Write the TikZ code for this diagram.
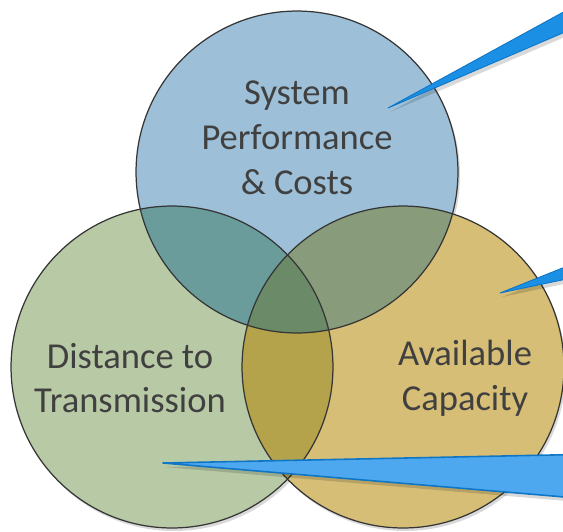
\documentclass[tikz,border=0pt]{standalone}
\usepackage{fontspec}
\setmainfont{Carlito}
\definecolor{perfblue}{HTML}{9DC0D8}
\definecolor{distgreen}{HTML}{B8C9A5}
\definecolor{capgold}{HTML}{D7BE76}
\definecolor{perfdist}{HTML}{6B9C9C}
\definecolor{perfcap}{HTML}{889C7C}
\definecolor{distcap}{HTML}{B5A34B}
\definecolor{allthree}{HTML}{6A8A68}
\definecolor{circline}{HTML}{353535}
\definecolor{textgray}{HTML}{404040}
\definecolor{calloutblue}{HTML}{1A8FE3}
\definecolor{calloutedge}{HTML}{0F76C6}
\definecolor{calloutlight}{HTML}{4DA8F0}
\begin{document}
\begin{tikzpicture}[x=0.02cm, y=-0.02cm,
    venn/.style={circle, draw=circline, line width=0.7pt, minimum size=6.44cm, inner sep=0pt},
    vennlabel/.style={text=textgray, font=\fontsize{20.8}{25.5}\selectfont, align=center},
    callout/.style={fill=calloutblue, draw=calloutedge, line width=0.5pt, line join=round},
    shade/.style={fill=black, opacity=0.15}]
    \useasboundingbox (0,0) rectangle (563,531);
    \clip (0,0) rectangle (563,531);

    % Circle centres
    \coordinate (pc) at (297,172);
    \coordinate (dc) at (172,367);
    \coordinate (cc) at (403,367);

    % Shadows
    \foreach \c in {pc,dc,cc}
        \fill[shade] ([shift={(2,3)}]\c) circle (3.22cm);

    % Fills
    \fill[distgreen] (dc) circle (3.22cm);
    \fill[capgold] (cc) circle (3.22cm);
    \fill[perfblue] (pc) circle (3.22cm);

    % Overlaps
    \begin{scope}
        \clip (pc) circle (3.22cm);
        \fill[perfdist] (dc) circle (3.22cm);
        \fill[perfcap] (cc) circle (3.22cm);
    \end{scope}
    \begin{scope}
        \clip (dc) circle (3.22cm);
        \fill[distcap] (cc) circle (3.22cm);
        \clip (pc) circle (3.22cm);
        \fill[allthree] (cc) circle (3.22cm);
    \end{scope}

    % Outlines
    \node[venn] (dist) at (dc) {};
    \node[venn] (cap) at (cc) {};
    \node[venn] (perf) at (pc) {};

    % Labels
    \node[vennlabel] (perflabel) at (297,138) {System\\Performance\\\& Costs};
    \node[vennlabel] (distlabel) at (130,378) {Distance to\\Transmission};
    \node[vennlabel] (caplabel) at (465,378) {Available\\Capacity};

    % Callouts
    \coordinate (perftip) at (388,108);
    \coordinate (perfA) at (600,-8);
    \coordinate (perfB) at (600,17);
    \coordinate (captip) at (500,293);
    \coordinate (capA) at (600,253);
    \coordinate (capB) at (600,272);
    \coordinate (disttip) at (163,463);
    \coordinate (distA) at (600,454);
    \coordinate (distB) at (600,500);

    \fill[shade] ([shift={(2,4)}]perftip) -- ([shift={(2,4)}]perfA) -- ([shift={(2,4)}]perfB) -- cycle;
    \fill[shade] ([shift={(2,4)}]captip) -- ([shift={(2,4)}]capA) -- ([shift={(2,4)}]capB) -- cycle;
    \fill[shade] ([shift={(2,4)}]disttip) -- ([shift={(2,4)}]distA) -- ([shift={(2,4)}]distB) -- cycle;

    \draw[callout] (perftip) -- (perfA) -- (perfB) -- cycle;
    \draw[callout] (captip) -- (capA) -- (capB) -- cycle;
    \draw[callout, fill=calloutlight, line width=0.9pt] (disttip) -- (distA) -- (distB) -- cycle;
\end{tikzpicture}
\end{document}
